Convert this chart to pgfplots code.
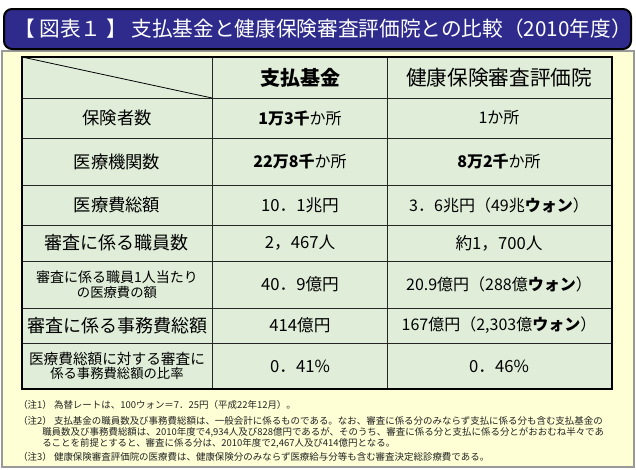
\documentclass[border=0pt]{standalone}
\usepackage{pgfplots}
\pgfplotsset{compat=1.18}
\usepackage{fontspec}
\setmainfont{Noto Sans CJK JP}
\newcommand\fs[1]{\fontsize{#1}{1.25\dimexpr#1\relax}\selectfont}
\definecolor{titlebg}{HTML}{2E2B8C}
\definecolor{boxbg}{HTML}{FFFFD6}
\definecolor{cellbg}{HTML}{E0EED9}
\definecolor{notegray}{HTML}{222222}
\begin{document}
\begin{tikzpicture}
\begin{axis}[
    width=477pt, height=351.75pt, scale only axis,
    xmin=0, xmax=636, ymin=0, ymax=469, y dir=reverse,
    axis lines=none, clip=false,
]
% background and frames
\fill[white] (axis cs:0,0) rectangle (axis cs:636,469);
\filldraw[fill=boxbg, draw=gray!80, line width=1pt] (axis cs:2,51) rectangle (axis cs:634,467);
\filldraw[fill=titlebg, draw=black, line width=1.5pt, rounded corners=6pt] (axis cs:4,9) rectangle (axis cs:631,49);
\node[anchor=west, text=white, inner sep=0pt] at (axis cs:14,29)
  {\fs{15.5pt}【 図表１ 】 支払基金と健康保険審査評価院との比較（2010年度）};

% table body
\fill[cellbg] (axis cs:22,57) rectangle (axis cs:612,389);
\pgfplotsinvokeforeach{98,138,185,225,261,308,343}{
  \draw[black!85, line width=0.6pt] (axis cs:22,#1) -- (axis cs:612,#1);
}
\draw[black!85, line width=0.6pt] (axis cs:212,57) -- (axis cs:212,389);
\draw[black!85, line width=0.6pt] (axis cs:387,57) -- (axis cs:387,389);
\draw[black, line width=0.6pt] (axis cs:22,57) -- (axis cs:212,98);
\draw[black, line width=1.8pt] (axis cs:22,57) rectangle (axis cs:612,389);

% header
\node at (axis cs:300,78) {\fs{15pt}\bfseries 支払基金};
\node at (axis cs:499,78) {\fs{15.5pt}健康保険審査評価院};

% row labels
\node at (axis cs:117,118) {\fs{13pt}保険者数};
\node at (axis cs:117,161.5) {\fs{13pt}医療機関数};
\node at (axis cs:117,205) {\fs{13pt}医療費総額};
\node at (axis cs:117,243) {\fs{13.5pt}審査に係る職員数};
\node[align=center] at (axis cs:117,284.5) {\fs{10.5pt}審査に係る職員1人当たり\\[-1pt]の医療費の額};
\node at (axis cs:117,325.5) {\fs{13.5pt}審査に係る事務費総額};
\node[align=center] at (axis cs:117,366) {\fs{11pt}医療費総額に対する審査に\\[-1pt]係る事務費総額の比率};

% column 2
\node at (axis cs:300,118) {\fs{12pt}\textbf{1万3千}か所};
\node at (axis cs:300,161.5) {\fs{12pt}\textbf{22万8千}か所};
\node at (axis cs:300,205) {\fs{12.5pt}10．1兆円};
\node at (axis cs:300,243) {\fs{12.5pt}2，467人};
\node at (axis cs:300,284.5) {\fs{12.5pt}40．9億円};
\node at (axis cs:300,325.5) {\fs{12.5pt}414億円};
\node at (axis cs:300,366) {\fs{12.5pt}0．41\%};

% column 3
\node at (axis cs:499,118) {\fs{12pt}1か所};
\node at (axis cs:499,161.5) {\fs{12pt}\textbf{8万2千}か所};
\node at (axis cs:499,205) {\fs{12pt}3．6兆円（49兆\textbf{ウォン}）};
\node at (axis cs:499,243) {\fs{12.5pt}約1，700人};
\node at (axis cs:499,284.5) {\fs{12pt}20.9億円（288億\textbf{ウォン}）};
\node at (axis cs:499,325.5) {\fs{12pt}167億円（2,303億\textbf{ウォン}）};
\node at (axis cs:499,366) {\fs{12.5pt}0．46\%};

% notes
\begin{scope}[every node/.style={anchor=west, inner sep=0pt, text=notegray}]
\node at (axis cs:18,405) {\fs{7.1pt}（注1）\ 為替レートは、100ウォン＝7．25円（平成22年12月）。};
\node at (axis cs:18,421) {\fs{7.1pt}（注2）\ 支払基金の職員数及び事務費総額は、一般会計に係るものである。なお、審査に係る分のみならず支払に係る分も含む支払基金の};
\node at (axis cs:42,432.5) {\fs{7.1pt}職員数及び事務費総額は、2010年度で4,934人及び828億円であるが、そのうち、審査に係る分と支払に係る分とがおおむね半々であ};
\node at (axis cs:42,443.5) {\fs{7.1pt}ることを前提とすると、審査に係る分は、2010年度で2,467人及び414億円となる。};
\node at (axis cs:18,456.5) {\fs{7.1pt}（注3）\ 健康保険審査評価院の医療費は、健康保険分のみならず医療給与分等も含む審査決定総診療費である。};
\end{scope}
\end{axis}
\end{tikzpicture}
\end{document}
